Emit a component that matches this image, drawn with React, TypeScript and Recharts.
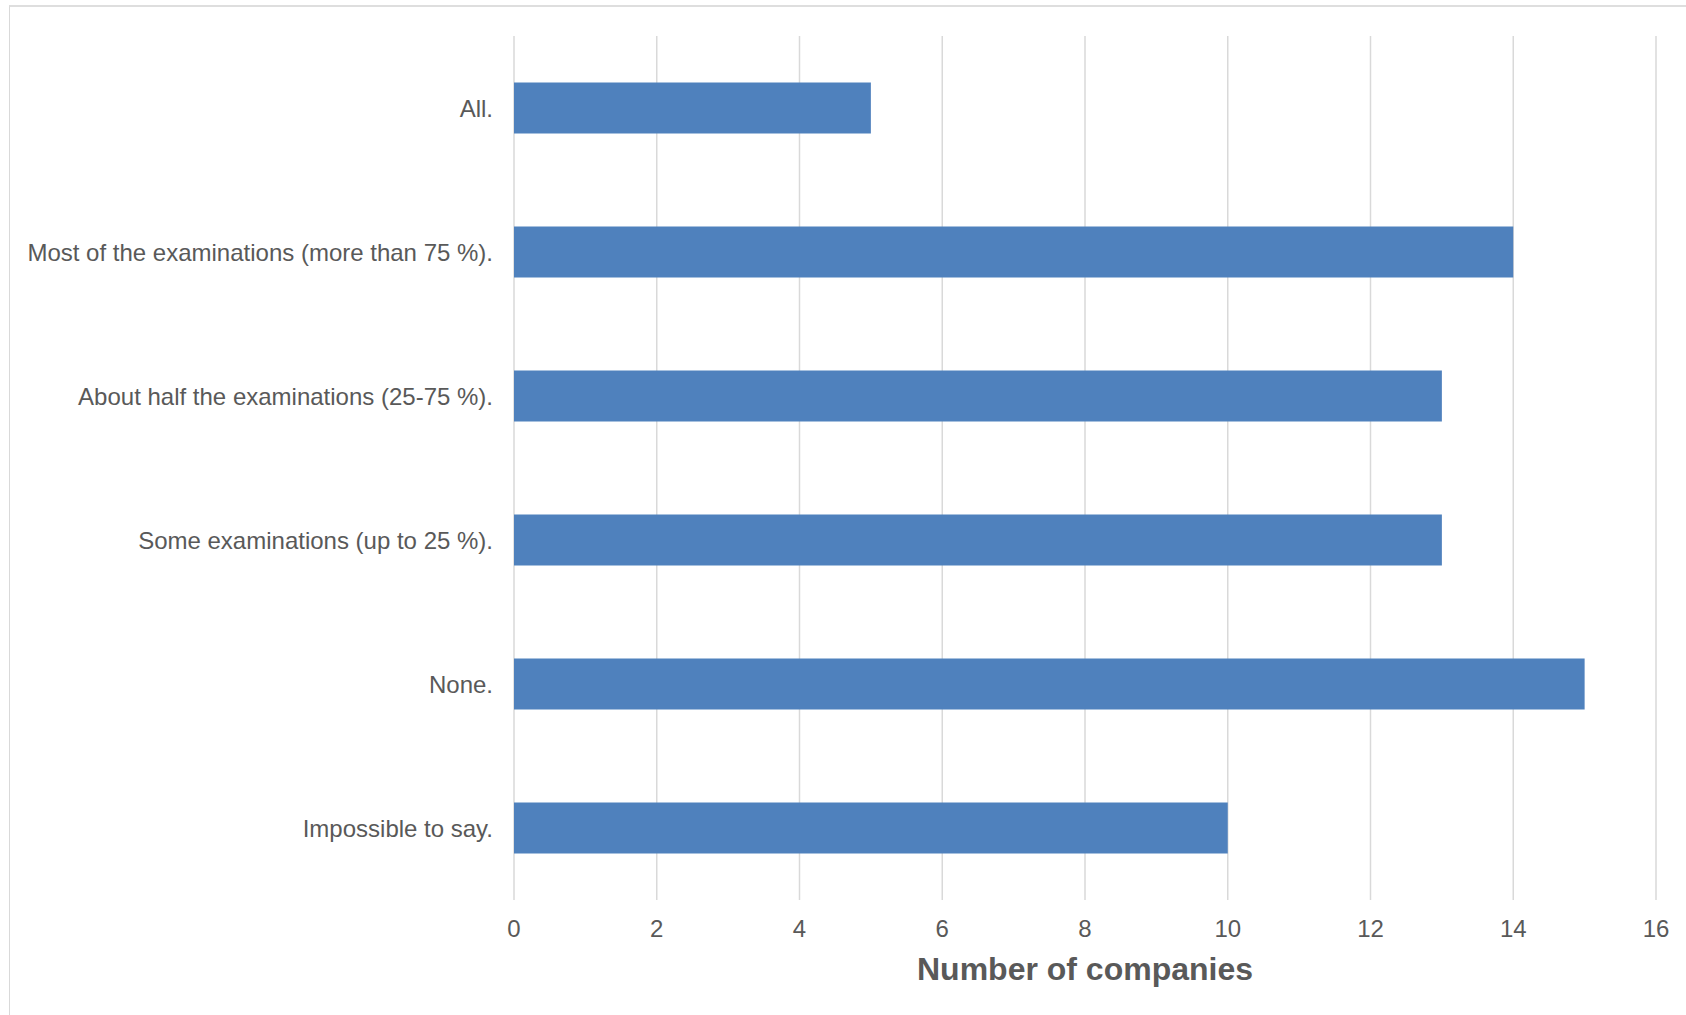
import React from "react";
import { BarChart, Bar, XAxis, YAxis, CartesianGrid, Label } from "recharts";

const categories = [
  "All.",
  "Most of the examinations (more than 75 %).",
  "About half the examinations (25-75 %).",
  "Some examinations (up to 25 %).",
  "None.",
  "Impossible to say.",
];
const companies = [5, 14, 13, 13, 15, 10];
const xTicks = [0, 2, 4, 6, 8, 10, 12, 14, 16];
const xTitle = "Number of companies";

const data = categories.map((c, i) => ({ name: c, value: companies[i] }));

const FONT = '"Liberation Sans", Arial, sans-serif';
const TEXT = "#595959";

export default function App() {
  return (
    <div
      style={{
        position: "absolute",
        left: 0,
        top: 0,
        width: 1686,
        height: 1015,
        overflow: "hidden",
        background: "#fff",
        fontFamily: FONT,
      }}
    >
      <div
        style={{
          position: "absolute",
          left: 9,
          top: 5,
          width: 2000,
          height: 2000,
          borderTop: "2px solid #dedede",
          borderLeft: "1px solid #d9d9d9",
        }}
      />
      <div style={{ position: "absolute", left: 0, top: 0 }}>
        <BarChart
          width={1686}
          height={1015}
          data={data}
          layout="vertical"
          margin={{ top: 36, right: 30, bottom: 0, left: 0 }}
          barCategoryGap="32.3%"
        >
          <CartesianGrid
            horizontal={false}
            vertical={true}
            stroke="#d9d9d9"
            strokeWidth={1.5}
          />
          <XAxis
            type="number"
            domain={[0, 16]}
            ticks={xTicks}
            interval={0}
            axisLine={false}
            tickLine={false}
            tickSize={0}
            tickMargin={20}
            height={115}
            tick={{ fill: TEXT, fontSize: 24, fontFamily: FONT }}
          >
            <Label
              value={xTitle}
              position="insideBottom"
              offset={35}
              fill={TEXT}
              fontSize={32}
              fontWeight="bold"
              fontFamily={FONT}
            />
          </XAxis>
          <YAxis
            type="category"
            dataKey="name"
            width={514}
            axisLine={false}
            tickLine={false}
            tickSize={0}
            tickMargin={21}
            interval={0}
            tick={{ fill: TEXT, fontSize: 24, fontFamily: FONT }}
          />
          <Bar dataKey="value" fill="#4f81bd" isAnimationActive={false} />
        </BarChart>
      </div>
    </div>
  );
}
